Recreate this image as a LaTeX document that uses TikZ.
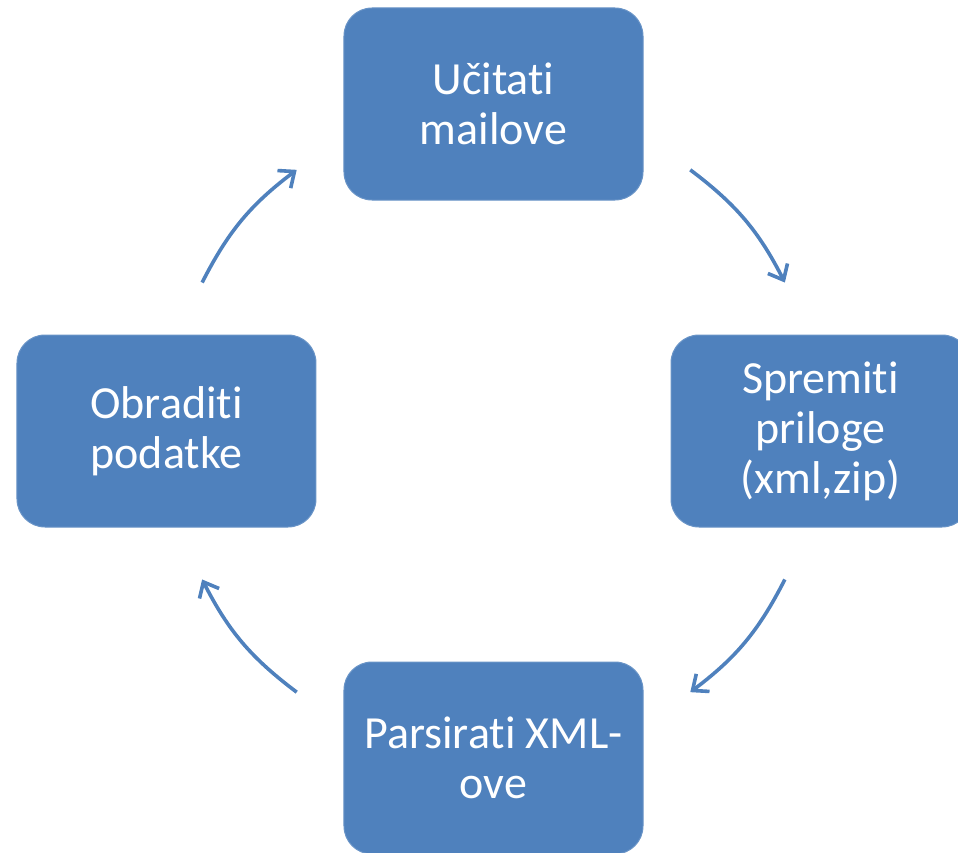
\documentclass[tikz,border=0pt]{standalone}
\usepackage{fontspec}
\setmainfont{Carlito}[Ligatures={NoCommon}]
\usetikzlibrary{arrows.meta}
\definecolor{boxblue}{HTML}{4F81BD}

\begin{document}
\begin{tikzpicture}[x=1pt,y=1pt,>={Straight Barb[length=13pt,width=22pt]},
                    node distance=327pt,
                    step node/.style={rectangle,rounded corners=28pt,fill=boxblue,
                      draw=boxblue!85!white,line width=1pt,minimum width=299pt,
                      minimum height=192pt,align=center,text=white,
                      font=\fontsize{46}{50}\selectfont}]
  \path[use as bounding box,clip] (-493.5,-421) rectangle (464.5,431);
  \coordinate (c) at (0,0);
  \node[step node] (ucitati) [above of=c] {Učitati\\mailove};
  \node[step node] (spremiti) [right of=c] {Spremiti\\priloge\\(xml,zip)};
  \node[step node] (parsirati) [below of=c] {Parsirati XML-\\ove};
  \node[step node] (obraditi) [left of=c] {Obraditi\\podatke};
  % arrow ends on the circle
  \coordinate (a1) at (53:327);   \coordinate (a2) at (27:327);
  \coordinate (b1) at (-27:327);  \coordinate (b2) at (-53:327);
  \coordinate (d1) at (-127:327); \coordinate (d2) at (-153:327);
  \coordinate (e1) at (153:327);  \coordinate (e2) at (127:327);
  \path[->,color=boxblue,line width=3.6pt]
    (a1) edge[bend left=13] (a2)
    (b1) edge[bend left=13] (b2)
    (d1) edge[bend left=13] (d2)
    (e1) edge[bend left=13] (e2)
    ;
\end{tikzpicture}
\end{document}
